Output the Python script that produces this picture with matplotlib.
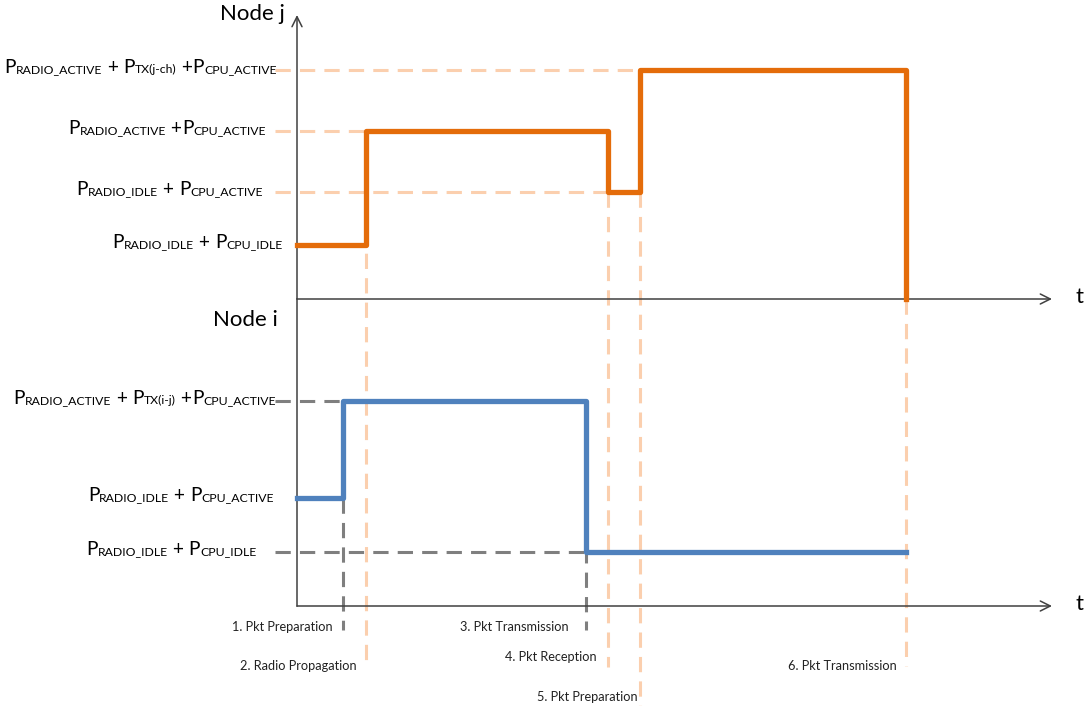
import matplotlib
matplotlib.use("Agg")
import matplotlib.pyplot as plt
from matplotlib.offsetbox import TextArea, HPacker, AnnotationBbox

plt.rcParams['font.family'] = ['Lato', 'DejaVu Sans']

# event times (arbitrary time units) and power levels (relative units)
j_times = [0, 9.14, 41.19, 45.43, 80.66]
j_levels = [0.943, 2.934, 1.869, 4.0, 0]
i_times = [0, 6.09, 38.28, 80.66]
i_levels = [1.886, 3.581, 0.943, 0.943]

j_labels = [
    [("P", 1), ("RADIO_ACTIVE", 0), (" + ", 1), ("P", 1), ("TX(j-ch)", 0), (" +", 1), ("P", 1), ("CPU_ACTIVE", 0)],
    [("P", 1), ("RADIO_ACTIVE", 0), (" +", 1), ("P", 1), ("CPU_ACTIVE", 0)],
    [("P", 1), ("RADIO_IDLE", 0), (" + ", 1), ("P", 1), ("CPU_ACTIVE", 0)],
    [("P", 1), ("RADIO_IDLE", 0), (" + ", 1), ("P", 1), ("CPU_IDLE", 0)],
]
j_label_levels = [4.0, 2.934, 1.869, 0.943]
i_labels = [
    [("P", 1), ("RADIO_ACTIVE", 0), (" + ", 1), ("P", 1), ("TX(i-j)", 0), (" +", 1), ("P", 1), ("CPU_ACTIVE", 0)],
    [("P", 1), ("RADIO_IDLE", 0), (" + ", 1), ("P", 1), ("CPU_ACTIVE", 0)],
    [("P", 1), ("RADIO_IDLE", 0), (" + ", 1), ("P", 1), ("CPU_IDLE", 0)],
]
i_label_levels = [3.581, 1.886, 0.943]

events = ["1. Pkt Preparation", "2. Radio Propagation", "3. Pkt Transmission",
          "4. Pkt Reception", "5. Pkt Preparation", "6. Pkt Transmission"]

ORANGE = "#E46C0A"
BLUE = "#4F81BD"
PEACH = "#FBCFAE"
GREY = "#7F7F7F"
AXC = "#404040"

fig = plt.figure(figsize=(10.9, 7.06), dpi=100)
W, H = 1090.0, 706.0
# top panel: baseline at y=299px, top at 15px; bottom panel: baseline 606px, top 299px
axj = fig.add_axes([297 / W, (H - 299) / H, 755 / W, 284 / H])
axi = fig.add_axes([297 / W, (H - 606) / H, 755 / W, 307 / H])
axj.set_xlim(0, 100)
axj.set_ylim(0, 284 / 57.25)
axi.set_xlim(0, 100)
axi.set_ylim(0, 307 / 57.25)
for ax in (axj, axi):
    ax.axis("off")
    ax.patch.set_alpha(0)

def yj(px):
    return (299 - px) / 57.25

def yi(px):
    return (606 - px) / 57.25

dash = dict(lw=2.2, dashes=(5, 3), clip_on=False, zorder=1)

# guide lines node j
xl = -2.9
for lev, tend in [(j_levels[3], j_times[3]), (j_levels[1], j_times[1]), (j_levels[2], j_times[2])]:
    axj.plot([xl, tend], [lev, lev], color=PEACH, **dash)
axj.plot([j_times[1]] * 2, [j_levels[1], yj(660)], color=PEACH, **dash)
axj.plot([j_times[2]] * 2, [j_levels[2], yj(667)], color=PEACH, **dash)
axj.plot([j_times[3]] * 2, [j_levels[2], yj(706)], color=PEACH, **dash)
axj.plot([j_times[4]] * 2, [0, yj(666)], color=PEACH, **dash)

# guide lines node i
axi.plot([xl, i_times[1]], [i_levels[1]] * 2, color=GREY, **dash)
axi.plot([xl, i_times[2]], [i_levels[2]] * 2, color=GREY, **dash)
axi.plot([i_times[1]] * 2, [i_levels[0], yi(630)], color=GREY, **dash)
axi.plot([i_times[2]] * 2, [i_levels[1], yi(630)], color=GREY, **dash)

# axes with arrows
arr = dict(arrowstyle="->", color=AXC, lw=1.1, mutation_scale=18, shrinkA=0, shrinkB=0)
axj.annotate("", xy=(100, 0), xytext=(0, 0), arrowprops=arr, annotation_clip=False)
axj.annotate("", xy=(0, 284 / 57.25), xytext=(0, 0), arrowprops=arr, annotation_clip=False)
axi.annotate("", xy=(100, 0), xytext=(0, 0), arrowprops=arr, annotation_clip=False)
axi.plot([0, 0], [0, 307 / 57.25], color=AXC, lw=1.1, clip_on=False)

# step traces
axj.step(j_times, j_levels, where="post", color=ORANGE, lw=3.8, zorder=3, clip_on=False)
axi.step(i_times, i_levels, where="post", color=BLUE, lw=3.8, zorder=3, clip_on=False)

def plabel(ax, x, y, parts):
    kids = []
    for s, big in parts:
        kids.append(TextArea(s, textprops=dict(fontsize=13.8 if big else 8.8, color="black")))
    box = HPacker(children=kids, align="baseline", pad=0, sep=0)
    ab = AnnotationBbox(box, (x, y), xycoords="data", box_alignment=(1, 0.35),
                        frameon=False, annotation_clip=False, pad=0)
    ax.add_artist(ab)

for parts, lev, xe in zip(j_labels, j_label_levels, [-2.7, -4.1, -4.5, -1.9]):
    plabel(axj, xe, lev, parts)
for parts, lev, xe in zip(i_labels, i_label_levels, [-2.8, -3.0, -5.4]):
    plabel(axi, xe, lev, parts)

fig.text(285 / W, 1 - 14 / H, "Node j", fontsize=16, ha="right", va="center")
fig.text(278 / W, 1 - 320 / H, "Node i", fontsize=16, ha="right", va="center")
fig.text(1080 / W, 1 - 297 / H, "t", fontsize=16, ha="center", va="center")
fig.text(1080 / W, 1 - 604 / H, "t", fontsize=16, ha="center", va="center")

ev_pos = [(333, 627), (357, 666), (569, 627), (597, 657), (638, 697), (897, 666)]
for txt, (px, py) in zip(events, ev_pos):
    fig.text(px / W, 1 - py / H, txt, fontsize=9.2, ha="right", va="center", color="#222222")

fig.savefig("out.png", dpi=100)
